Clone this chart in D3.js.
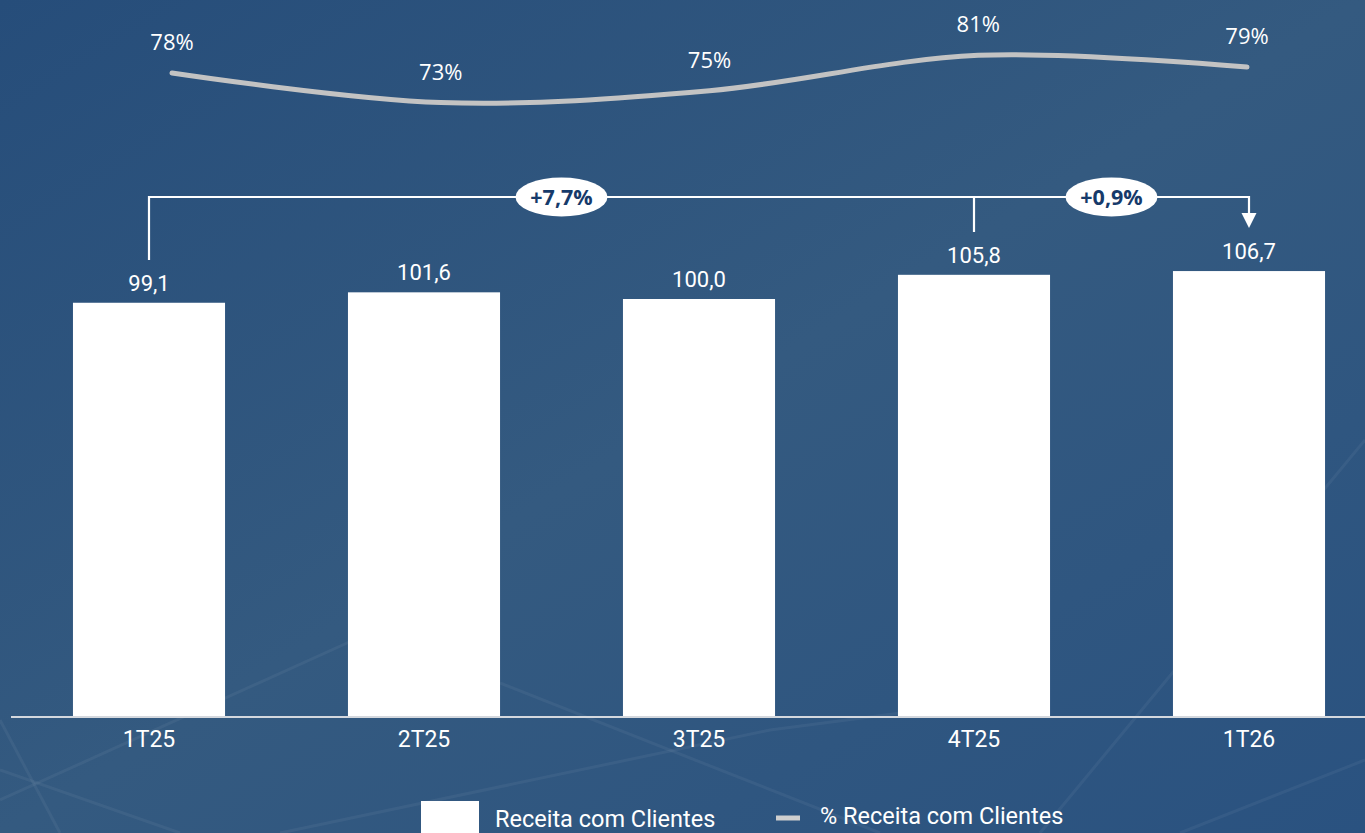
<!DOCTYPE html>
<html>
<head>
<meta charset="utf-8">
<script src="https://cdn.jsdelivr.net/npm/d3@7"></script>
<style>
  html, body { margin: 0; padding: 0; overflow: hidden; }
  body { width: 1365px; height: 833px; }
  text { font-family: Roboto, "Open Sans", sans-serif; }
</style>
</head>
<body>
<svg id="chart" width="1365" height="833"></svg>
<script>
// ---- Data ----
const categories = ["1T25", "2T25", "3T25", "4T25", "1T26"];
const revenue = [99.1, 101.6, 100.0, 105.8, 106.7];
const revenueLabels = ["99,1", "101,6", "100,0", "105,8", "106,7"];
const share = [78, 73, 75, 81, 79];
const shareLabels = ["78%", "73%", "75%", "81%", "79%"];
const growthLabels = ["+7,7%", "+0,9%"];
const legendLabels = ["Receita com Clientes", "% Receita com Clientes"];

const svg = d3.select("#chart");
const W = 1365, H = 833;

// ---- Background ----
const defs = svg.append("defs");
const grad = defs.append("linearGradient").attr("id", "bg")
  .attr("x1", "0").attr("y1", "0").attr("x2", "1").attr("y2", "1");
grad.append("stop").attr("offset", "0%").attr("stop-color", "#264d7a");
grad.append("stop").attr("offset", "50%").attr("stop-color", "#345a80");
grad.append("stop").attr("offset", "100%").attr("stop-color", "#2a5280");
svg.append("rect").attr("width", W).attr("height", H).attr("fill", "url(#bg)");

// faint decorative lines
const deco = [
  [[0, 800], [420, 610]],
  [[0, 770], [180, 833]],
  [[500, 683], [880, 833]],
  [[280, 833], [770, 730], [1000, 700]],
  [[1040, 833], [1365, 440]],
  [[1180, 833], [1365, 760]],
  [[0, 720], [60, 833]]
];
svg.append("g").selectAll("path").data(deco).join("path")
  .attr("d", d3.line())
  .attr("fill", "none")
  .attr("stroke", "#ffffff")
  .attr("stroke-opacity", 0.05)
  .attr("stroke-width", 3);

// ---- Scales ----
const x = d3.scaleBand().domain(categories)
  .range([11.5, 1386.5]).paddingInner(0.447).paddingOuter(0.2235);
const y = d3.scaleLinear().domain([0, 120]).range([716, 215.6]);

const xl = d3.scalePoint().domain(categories).range([172, 1247]);
const yl = d3.scaleLinear().domain([70, 85]).range([120.2, 31.7]);

// ---- Bars ----
svg.append("g").selectAll("rect").data(categories).join("rect")
  .attr("x", d => x(d))
  .attr("y", (d, i) => y(revenue[i]))
  .attr("width", x.bandwidth())
  .attr("height", (d, i) => y(0) - y(revenue[i]))
  .attr("fill", "#ffffff");

// axis line
svg.append("line")
  .attr("x1", 11).attr("x2", W).attr("y1", 717).attr("y2", 717)
  .attr("stroke", "#d4d8de").attr("stroke-width", 2);

// category labels via axis
const xAxis = svg.append("g").attr("transform", "translate(0,717)")
  .call(d3.axisBottom(x).tickSize(0).tickPadding(14));
xAxis.select(".domain").remove();
xAxis.selectAll("text")
  .attr("fill", "#ffffff")
  .style("font-family", "Roboto, sans-serif")
  .style("font-size", "23px");

// value labels
svg.append("g").selectAll("text").data(categories).join("text")
  .attr("x", d => x(d) + x.bandwidth() / 2)
  .attr("y", (d, i) => y(revenue[i]) - 12)
  .attr("text-anchor", "middle")
  .attr("fill", "#ffffff")
  .style("font-size", "22px")
  .text((d, i) => revenueLabels[i]);

// ---- Line ----
const line = d3.line()
  .x((d, i) => xl(categories[i]))
  .y(d => yl(d))
  .curve(d3.curveCatmullRom.alpha(0.5));
svg.append("path").datum(share)
  .attr("d", line)
  .attr("fill", "none")
  .attr("stroke", "#c3c3c3")
  .attr("stroke-width", 5)
  .attr("stroke-linecap", "round");

svg.append("g").selectAll("text").data(share).join("text")
  .attr("x", (d, i) => xl(categories[i]))
  .attr("y", d => yl(d) - 23)
  .attr("text-anchor", "middle")
  .attr("fill", "#ffffff")
  .style("font-family", "'Open Sans', sans-serif")
  .style("font-size", "22px")
  .text((d, i) => shareLabels[i]);

// ---- Growth bracket ----
const cx = d => x(d) + x.bandwidth() / 2;
const by = 197;
const br = svg.append("g").attr("stroke", "#ffffff").attr("stroke-width", 2.2).attr("fill", "none");
br.append("path").attr("d",
  `M${cx("1T25")},260 V${by} H${cx("1T26")} V214`);
br.append("path").attr("d", `M${cx("4T25")},${by} V232`);
svg.append("path")
  .attr("d", `M${cx("1T26") - 7.5},213 L${cx("1T26") + 7.5},213 L${cx("1T26")},228 Z`)
  .attr("fill", "#ffffff");

const bubbles = [
  { label: growthLabels[0], x: cx("2T25") + 0.5 * (cx("3T25") - cx("2T25")) },
  { label: growthLabels[1], x: (cx("4T25") + cx("1T26")) / 2 }
];
const bg = svg.append("g").selectAll("g").data(bubbles).join("g")
  .attr("transform", d => `translate(${d.x},${by})`);
bg.append("ellipse").attr("rx", 46).attr("ry", 19.5).attr("fill", "#ffffff");
bg.append("text")
  .attr("text-anchor", "middle")
  .attr("dy", "0.35em")
  .attr("fill", "#163a6a")
  .style("font-family", "'Open Sans', sans-serif")
  .style("font-weight", "700")
  .style("font-size", "21.5px")
  .text(d => d.label);

// ---- Legend ----
const lg = svg.append("g");
lg.append("rect").attr("x", 421).attr("y", 801).attr("width", 58).attr("height", 40).attr("fill", "#ffffff");
lg.append("text").attr("x", 495).attr("y", 827).attr("fill", "#ffffff")
  .style("font-size", "23.5px").text(legendLabels[0]);
lg.append("line").attr("x1", 776).attr("x2", 800).attr("y1", 818).attr("y2", 818)
  .attr("stroke", "#cfcfcf").attr("stroke-width", 5);
lg.append("text").attr("x", 820).attr("y", 824).attr("fill", "#ffffff")
  .style("font-size", "23.5px").text(legendLabels[1]);
</script>
</body>
</html>
